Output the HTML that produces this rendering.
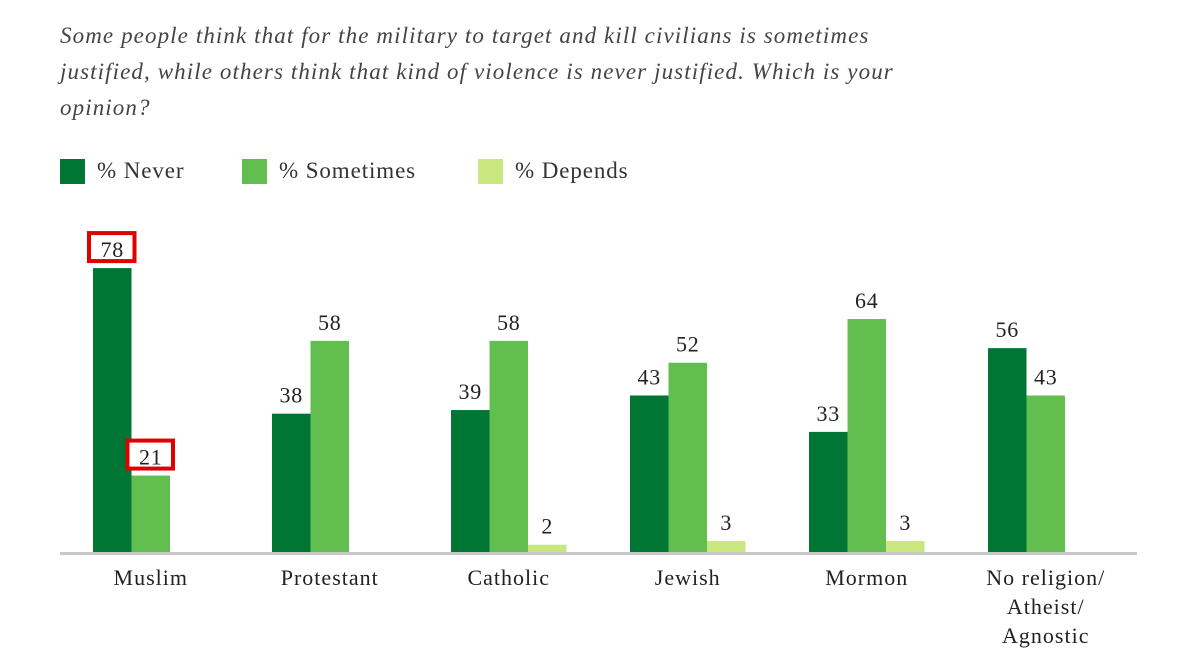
<!DOCTYPE html>
<html><head><meta charset="utf-8"><style>
body{margin:0;background:#fff;width:1200px;height:668px;overflow:hidden;font-family:"Liberation Serif",serif}
.q{position:absolute;left:60px;top:18px;white-space:nowrap;font-style:italic;font-size:23px;letter-spacing:1.1px;line-height:36px;color:#444}
.lg{position:absolute;top:158px;height:26px;font-size:23px;letter-spacing:0.9px;color:#333;display:flex;align-items:center}
.lg span{display:inline-block;width:25px;height:25px;margin-right:12px}
</style></head><body>
<div class="q">Some people think that for the military to target and kill civilians is sometimes<br>justified, while others think that kind of violence is never justified. Which is your<br>opinion?</div>
<div class="lg" style="left:60px"><span style="background:#007534"></span>% Never</div>
<div class="lg" style="left:242px"><span style="background:#62bf4f"></span>% Sometimes</div>
<div class="lg" style="left:478px"><span style="background:#c9e67f"></span>% Depends</div>
<svg id="c" width="1200" height="668" style="position:absolute;left:0;top:0"></svg>
<script>
const categories=[["Muslim"],["Protestant"],["Catholic"],["Jewish"],["Mormon"],["No religion/","Atheist/","Agnostic"]];
const never=[78,38,39,43,33,56];
const sometimes=[21,58,58,52,64,43];
const depends=[null,null,2,3,3,null];
const highlighted=[0];
const NS="http://www.w3.org/2000/svg",svg=document.getElementById('c');
const base=552,k=3.64,x0=93,gap=179,bw=38.5;
const y=v=>base-v*k, gx=i=>x0+i*gap;
function el(t,a,txt){const e=document.createElementNS(NS,t);for(const n in a)e.setAttribute(n,a[n]);if(txt!=null)e.textContent=txt;svg.appendChild(e);return e;}
const series=[[never,"#007534","never"],[sometimes,"#62bf4f","sometimes"],[depends,"#c9e67f","depends"]];
categories.forEach((c,i)=>{
 series.forEach(([arr,col,nm],j)=>{
  const v=arr[i]; if(v==null)return;
  const x=gx(i)+j*bw;
  const r=el('rect',{x:x,y:y(v),width:bw,height:v*k,fill:col});
  
  
  if(highlighted.includes(i)&&j<2){
   const b=el('rect',{x:x-4,y:y(v)-35,width:bw+7,height:28,fill:'#fff',stroke:'#e00000','stroke-width':4});
   
   
  }
  const t=el('text',{x:x+bw/2,y:y(v)-11,'text-anchor':'middle','font-size':22,'letter-spacing':0.8,fill:'#222','font-family':'Liberation Serif'},v);
  
  
 });
 c.forEach((ln,li)=>{
  const t=el('text',{x:gx(i)+bw*1.5,y:585+li*29,'text-anchor':'middle','font-size':22,'letter-spacing':1,fill:'#222','font-family':'Liberation Serif'},ln);
  
  
 });
});
const ax=el('line',{x1:60,x2:1137,y1:base+1.5,y2:base+1.5,stroke:'#c8c8c8','stroke-width':3});


</script>
</body></html>
